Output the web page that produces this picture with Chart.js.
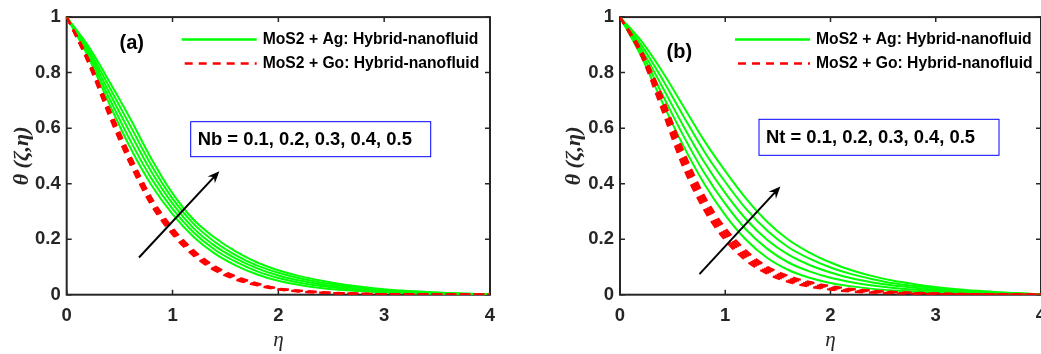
<!DOCTYPE html>
<html lang="en">
<head>
  <meta charset="UTF-8">
  <title>Temperature profiles: Nb and Nt</title>
  <script src="https://cdn.jsdelivr.net/npm/chart.js"></script>
  <style>
    body { margin: 0; background: #fff; overflow: hidden; }
    .panel { position: absolute; top: 0; height: 354px; overflow: hidden; }
    #panelA { left: 0; width: 520px; }
    #panelB { left: 520px; width: 521px; }
  </style>
</head>
<body>
  <div class="panel" id="panelA"><canvas id="chartA" width="520" height="354"></canvas></div>
  <div class="panel" id="panelB"><canvas id="chartB" width="560" height="354"></canvas></div>

  <script>
    // shared x values and ticks
    const eta = [0, 0.2, 0.4, 0.6, 0.8, 1, 1.2, 1.4, 1.6, 1.8, 2, 2.2, 2.4, 2.6, 2.8, 3, 3.2, 3.4, 3.6, 3.8, 4];
    const xTicks = [0, 1, 2, 3, 4];
    const yTicks = [0, 0.2, 0.4, 0.6, 0.8, 1];
    const legendLabels = ["MoS2 + Ag: Hybrid-nanofluid", "MoS2 + Go: Hybrid-nanofluid"];
    const nbText = "Nb = 0.1, 0.2, 0.3, 0.4, 0.5";
    const ntText = "Nt = 0.1, 0.2, 0.3, 0.4, 0.5";

    // (a) Nb = 0.1 ... 0.5, MoS2 + Ag
    const agNb1 = [1, .860, .690, .530, .395, .290, .208, .148, .105, .073, .050, .035, .024, .017, .012, .008, .005, .003, .002, .001, 0];
    const agNb2 = [1, .869, .710, .556, .419, .309, .224, .162, .118, .084, .060, .043, .031, .022, .016, .011, .007, .005, .003, .002, 0];
    const agNb3 = [1, .879, .730, .583, .443, .328, .239, .176, .130, .095, .069, .051, .038, .028, .020, .014, .010, .007, .004, .002, .001];
    const agNb4 = [1, .888, .750, .609, .466, .346, .255, .190, .142, .105, .079, .059, .044, .033, .024, .017, .012, .008, .005, .003, .001];
    const agNb5 = [1, .898, .770, .635, .490, .365, .270, .205, .155, .116, .088, .067, .051, .038, .028, .020, .014, .010, .006, .003, .001];
    // (a) MoS2 + Go
    const goNb1 = [1, .838, .645, .470, .322, .217, .140, .087, .054, .033, .019, .011, .007, .004, .003, .002, .001, .001, 0, 0, 0];
    const goNb2 = [1, .842, .652, .478, .329, .223, .145, .091, .057, .035, .020, .012, .007, .005, .003, .002, .001, .001, 0, 0, 0];
    const goNb3 = [1, .846, .659, .486, .336, .229, .150, .095, .060, .037, .021, .013, .008, .005, .003, .002, .001, .001, 0, 0, 0];
    const goNb4 = [1, .850, .666, .494, .343, .235, .155, .099, .063, .039, .022, .014, .009, .005, .003, .002, .001, .001, 0, 0, 0];
    const goNb5 = [1, .854, .673, .502, .350, .241, .160, .103, .066, .041, .023, .015, .009, .006, .004, .002, .001, .001, .001, 0, 0];

    // (b) Nt = 0.1 ... 0.5, MoS2 + Ag
    const agNt1 = [1, .860, .695, .538, .400, .287, .197, .132, .089, .061, .042, .030, .021, .015, .011, .008, .005, .003, .002, .001, 0];
    const agNt2 = [1, .874, .723, .574, .439, .327, .234, .165, .116, .084, .061, .045, .033, .024, .018, .013, .009, .006, .004, .002, 0];
    const agNt3 = [1, .888, .750, .609, .478, .366, .271, .197, .144, .107, .080, .059, .044, .033, .025, .018, .013, .009, .006, .003, .001];
    const agNt4 = [1, .901, .778, .645, .516, .406, .308, .230, .171, .130, .098, .074, .056, .041, .031, .023, .016, .011, .007, .004, .001];
    const agNt5 = [1, .915, .805, .680, .555, .445, .345, .262, .198, .152, .116, .088, .067, .050, .038, .028, .020, .014, .009, .005, .001];
    // (b) MoS2 + Go
    const goNt1 = [1, .862, .665, .460, .305, .196, .122, .075, .046, .029, .018, .011, .007, .004, .003, .002, .001, .001, 0, 0, 0];
    const goNt2 = [1, .867, .678, .475, .317, .207, .131, .081, .051, .033, .021, .014, .009, .006, .004, .002, .001, .001, 0, 0, 0];
    const goNt3 = [1, .872, .690, .490, .330, .218, .140, .088, .057, .038, .025, .017, .011, .007, .005, .003, .002, .001, .001, 0, 0];
    const goNt4 = [1, .877, .702, .505, .343, .229, .149, .095, .062, .042, .028, .019, .013, .009, .006, .004, .003, .002, .001, .001, 0];
    const goNt5 = [1, .882, .715, .520, .356, .240, .158, .101, .068, .046, .031, .021, .015, .010, .007, .005, .003, .002, .001, .001, 0];

    const AXIS = "#262626";
    const GREEN = "#00ff00";
    const RED = "#ff0000";
    const DASH = [8, 6];
    const SANS = "'Liberation Sans', Arial, sans-serif";
    const SERIF = "'Liberation Serif', 'Times New Roman', serif";

    function toPoints(vals) {
      return vals.map((v, i) => ({ x: eta[i], y: v }));
    }

    function buildDatasets(agList, goList) {
      const sets = [];
      agList.forEach(vals => sets.push({
        label: legendLabels[0], data: toPoints(vals), borderColor: GREEN, borderWidth: 2,
        pointRadius: 0, cubicInterpolationMode: "monotone", order: 2
      }));
      goList.forEach(vals => sets.push({
        label: legendLabels[1], data: toPoints(vals), borderColor: RED, borderWidth: 2.2,
        borderDash: DASH, pointRadius: 0, cubicInterpolationMode: "monotone", order: 1
      }));
      return sets;
    }

    // box, inward ticks, legend, labels and arrow
    const notesPlugin = {
      id: "notes",
      beforeDatasetsDraw(chart) {
        const { ctx, chartArea: a, scales: { x, y } } = chart;
        ctx.save();
        ctx.strokeStyle = AXIS;
        ctx.lineWidth = 2;
        ctx.strokeRect(a.left, a.top, a.right - a.left, a.bottom - a.top);
        ctx.lineWidth = 1.5;
        ctx.beginPath();
        x.ticks.forEach((t, i) => {
          const px = x.getPixelForTick(i);
          ctx.moveTo(px, a.bottom); ctx.lineTo(px, a.bottom - 5);
          ctx.moveTo(px, a.top); ctx.lineTo(px, a.top + 5);
        });
        y.ticks.forEach((t, i) => {
          const py = y.getPixelForTick(i);
          ctx.moveTo(a.left, py); ctx.lineTo(a.left + 5, py);
          ctx.moveTo(a.right, py); ctx.lineTo(a.right - 5, py);
        });
        ctx.stroke();
        ctx.restore();
      },
      afterDatasetsDraw(chart, args, o) {
        const { ctx, chartArea: a, scales: { x, y } } = chart;
        ctx.save();

        // legend
        const lx = a.left + 115, tx = a.left + 196;
        ctx.lineWidth = 2.5;
        ctx.strokeStyle = GREEN;
        ctx.beginPath(); ctx.moveTo(lx, 39.5); ctx.lineTo(a.left + 190, 39.5); ctx.stroke();
        ctx.strokeStyle = RED;
        ctx.setLineDash(DASH);
        ctx.beginPath(); ctx.moveTo(lx + 3, 63.5); ctx.lineTo(a.left + 190, 63.5); ctx.stroke();
        ctx.setLineDash([]);
        ctx.fillStyle = "#000";
        ctx.font = "bold 15.7px " + SANS;
        ctx.textBaseline = "middle";
        ctx.fillText(legendLabels[0], tx, 39.5);
        ctx.fillText(legendLabels[1], tx, 63.5);

        // panel letter
        ctx.font = "bold 20px " + SANS;
        ctx.textAlign = "center";
        ctx.fillText(o.letter, a.left + o.letterX, o.letterY);

        // parameter box
        ctx.textAlign = "left";
        ctx.strokeStyle = "#0000ff";
        ctx.lineWidth = 1;
        ctx.strokeRect(a.left + o.box[0], o.box[1], o.box[2], o.box[3]);
        ctx.font = "bold 18.4px " + SANS;
        ctx.fillText(o.text, a.left + o.box[0] + 7, o.box[1] + o.box[3] / 2 + 1);

        // arrow
        const x0 = x.getPixelForValue(o.arrow[0]), y0 = y.getPixelForValue(o.arrow[1]);
        const x1 = x.getPixelForValue(o.arrow[2]), y1 = y.getPixelForValue(o.arrow[3]);
        const ang = Math.atan2(y1 - y0, x1 - x0), c = Math.cos(ang), s = Math.sin(ang);
        ctx.strokeStyle = "#000";
        ctx.lineWidth = 2;
        ctx.beginPath(); ctx.moveTo(x0, y0); ctx.lineTo(x1 - 6 * c, y1 - 6 * s); ctx.stroke();
        ctx.beginPath();
        ctx.moveTo(x1, y1);
        ctx.lineTo(x1 - 12 * c + 5 * s, y1 - 12 * s - 5 * c);
        ctx.lineTo(x1 - 8 * c, y1 - 8 * s);
        ctx.lineTo(x1 - 12 * c - 5 * s, y1 - 12 * s + 5 * c);
        ctx.closePath();
        ctx.fillStyle = "#000";
        ctx.fill();

        ctx.restore();
      }
    };

    function makeChart(id, agList, goList, notes, pad, yWidth) {
      return new Chart(document.getElementById(id), {
        type: "line",
        data: { datasets: buildDatasets(agList, goList) },
        options: {
          responsive: false,
          animation: false,
          layout: { padding: pad },
          plugins: { legend: { display: false }, tooltip: { enabled: false }, notes: notes },
          scales: {
            x: {
              type: "linear", min: 0, max: 4,
              afterBuildTicks: s => { s.ticks = xTicks.map(v => ({ value: v })); },
              afterFit: s => { s.height = 59.3; },
              grid: { display: false, drawTicks: false },
              border: { display: false },
              ticks: { color: AXIS, padding: 10, font: { family: SANS, size: 18.5, weight: "bold" } },
              title: { display: true, text: "η", color: AXIS, padding: { top: 0, bottom: 1 },
                       font: { family: SERIF, size: 21, style: "italic" } }
            },
            y: {
              type: "linear", min: 0, max: 1,
              afterBuildTicks: s => { s.ticks = yTicks.map(v => ({ value: v })); },
              afterFit: s => { s.width = yWidth; },
              grid: { display: false, drawTicks: false },
              border: { display: false },
              ticks: { color: AXIS, padding: 6, callback: v => String(Number(v.toFixed(2))),
                       font: { family: SANS, size: 18.5, weight: "bold" } },
              title: { display: true, text: "θ (ζ,η)", color: AXIS, padding: { top: 4, bottom: 4 },
                       font: { family: SERIF, size: 22, style: "italic", weight: "bold" } }
            }
          }
        },
        plugins: [notesPlugin]
      });
    }

    makeChart("chartA", [agNb1, agNb2, agNb3, agNb4, agNb5], [goNb1, goNb2, goNb3, goNb4, goNb5],
      { letter: "(a)", letterX: 65, letterY: 43, text: nbText, box: [124, 121.7, 240, 35], arrow: [0.683, 0.134, 1.443, 0.445] },
      { left: 5, right: 30, top: 16, bottom: 0 }, 61.7);

    makeChart("chartB", [agNt1, agNt2, agNt3, agNt4, agNt5], [goNt1, goNt2, goNt3, goNt4, goNt5],
      { letter: "(b)", letterX: 59.3, letterY: 52, text: ntText, box: [139, 119.3, 240, 36], arrow: [0.755, 0.074, 1.524, 0.39] },
      { left: 37.5, right: 39, top: 16, bottom: 0 }, 62.5);
  </script>
</body>
</html>
